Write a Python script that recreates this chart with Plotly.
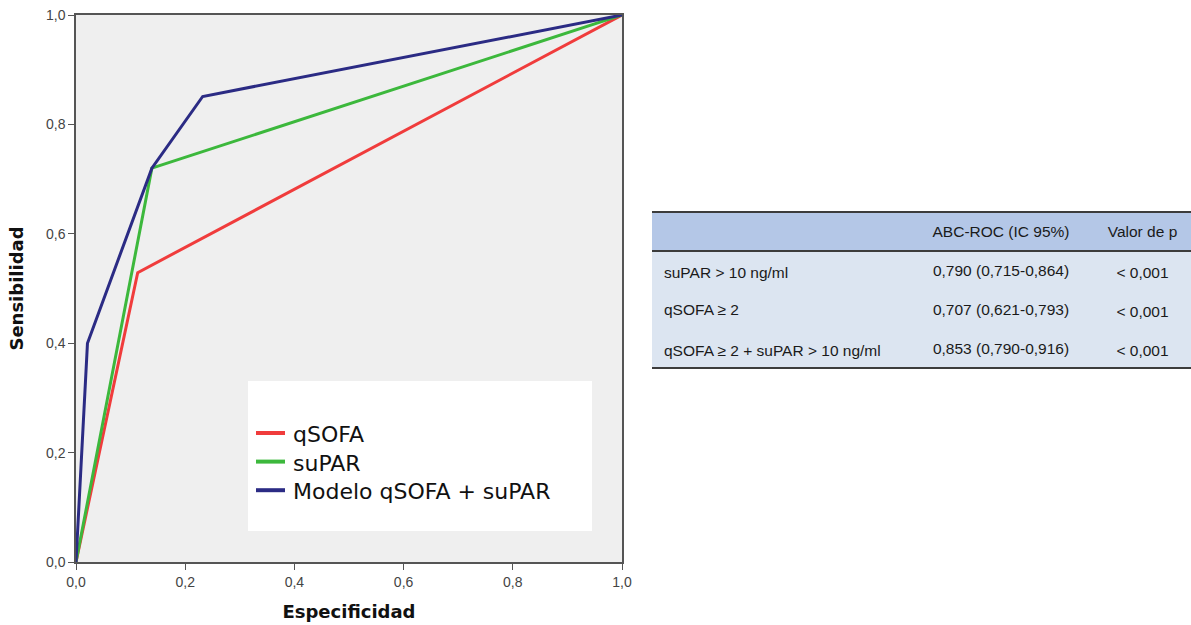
import plotly.graph_objects as go

# ROC curves (1 - specificity on x, sensitivity on y)
qsofa_x = [0.0, 0.113, 1.0]
qsofa_y = [0.0, 0.529, 1.0]
supar_x = [0.0, 0.139, 1.0]
supar_y = [0.0, 0.720, 1.0]
modelo_x = [0.0, 0.021, 0.139, 0.232, 1.0]
modelo_y = [0.0, 0.400, 0.720, 0.851, 1.0]

series_names = ["qSOFA", "suPAR", "Modelo qSOFA + suPAR"]
series_colors = ["#f03c3c", "#3cb83c", "#2b2b84"]

# Table
table_header = ["", "ABC-ROC (IC 95%)", "Valor de p"]
table_rows = ["suPAR > 10 ng/ml", "qSOFA ≥ 2", "qSOFA ≥ 2 + suPAR > 10 ng/ml"]
table_auc = ["0,790 (0,715-0,864)", "0,707 (0,621-0,793)", "0,853 (0,790-0,916)"]
table_p = ["&lt; 0,001", "&lt; 0,001", "&lt; 0,001"]

W, H = 1191, 625
ML, MR, MT, MB = 76, 0, 15, 63
PW = W - ML - MR
PH = H - MT - MB


def px_x(p):
    return (p - ML) / PW


def px_y(p):
    return (H - MB - p) / PH


fig = go.Figure()
for xs, ys, name, col in zip([qsofa_x, supar_x, modelo_x], [qsofa_y, supar_y, modelo_y],
                             series_names, series_colors):
    fig.add_trace(go.Scatter(x=xs, y=ys, mode="lines", name=name, showlegend=False,
                             line=dict(color=col, width=3)))

tfont = "Liberation Sans, Arial"
fig.add_trace(go.Table(
    domain=dict(x=[px_x(656), 1.0], y=[px_y(540), px_y(217)]),
    columnwidth=[252, 186, 97],
    header=dict(values=table_header, fill_color="rgba(0,0,0,0)",
                line=dict(width=0, color="rgba(0,0,0,0)"),
                align=["left", "center", "center"], height=39,
                font=dict(family=tfont, size=15.5, color="#1a1a1a")),
    cells=dict(values=[table_rows, table_auc, table_p], fill_color="rgba(0,0,0,0)",
               line=dict(width=0, color="rgba(0,0,0,0)"),
               align=["left", "center", "center"], height=39,
               font=dict(family=tfont, size=15.5, color="#1a1a1a")),
))

axis_common = dict(range=[0, 1], tickvals=[0, 0.2, 0.4, 0.6, 0.8, 1.0], tickformat=".1f",
                   showgrid=False, zeroline=False, showline=True, linecolor="#555555",
                   linewidth=1.5, mirror=True, ticks="outside", ticklen=6, tickwidth=1.2,
                   tickcolor="#555555", automargin=False,
                   tickfont=dict(family="Liberation Sans Narrow, Arial Narrow, Arial", size=14,
                                 color="#444444"))

title_font = dict(family="DejaVu Sans, Verdana, Arial", size=18, color="#111111")

# table backgrounds
shapes = [
    dict(type="rect", xref="paper", yref="paper", layer="below",
         x0=px_x(652), x1=1.0, y0=px_y(251), y1=px_y(212),
         fillcolor="#b4c7e7", line=dict(width=0)),
    dict(type="rect", xref="paper", yref="paper", layer="below",
         x0=px_x(652), x1=1.0, y0=px_y(368), y1=px_y(251),
         fillcolor="#dce5f1", line=dict(width=0)),
    # legend box
    dict(type="rect", xref="x", yref="y", layer="below",
         x0=(248 - ML) / 546, x1=(592 - ML) / 546,
         y0=(562 - 531) / 547, y1=(562 - 381) / 547,
         fillcolor="white", line=dict(width=0)),
]

# manual legend: one multi-line text block + coloured swatches
leg_size = 22
leg_step = leg_size * 1.3
leg_first = 433
annotations = [dict(text="<br>".join(series_names), xref="paper", yref="paper",
                    x=px_x(291), y=px_y(leg_first + leg_step + 1), xanchor="left",
                    yanchor="middle", align="left", showarrow=False,
                    font=dict(family="DejaVu Sans, Verdana, Arial", size=leg_size,
                              color="#111111"))]
for i, col in enumerate(series_colors):
    ly = leg_first + i * leg_step
    shapes.append(dict(type="line", xref="paper", yref="paper", x0=px_x(256), x1=px_x(285),
                       y0=px_y(ly), y1=px_y(ly), line=dict(color=col, width=4)))

for yy in [212, 251, 368]:
    shapes.append(dict(type="line", xref="paper", yref="paper", x0=px_x(652), x1=1.0,
                       y0=px_y(yy), y1=px_y(yy), line=dict(color="#3c3c3c", width=2),
                       layer="above"))

fig.update_layout(
    width=W, height=H,
    margin=dict(l=ML, r=MR, t=MT, b=MB, autoexpand=False),
    paper_bgcolor="white",
    plot_bgcolor="#efefef",
    separators=",.",
    showlegend=False,
    xaxis=dict(domain=[0, (622 - ML) / PW], **axis_common,
               title=dict(text="<b>Especificidad</b>", standoff=17, font=title_font)),
    yaxis=dict(domain=[0, 1], **axis_common,
               title=dict(text="<b>Sensibilidad</b>", standoff=18, font=title_font)),
    shapes=shapes,
    annotations=annotations,
)

fig.write_html("out.html", config={"displayModeBar": False},
               post_script="document.body.style.margin='0';")
